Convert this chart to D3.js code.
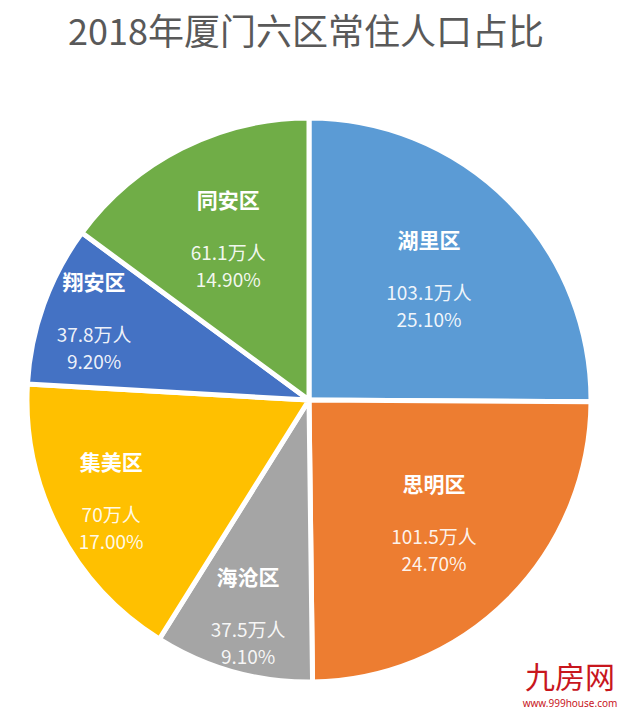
<!DOCTYPE html>
<html>
<head>
<meta charset="utf-8">
<script src="https://cdn.jsdelivr.net/npm/d3@7"></script>
<style>
  html, body { margin: 0; padding: 0; background: #ffffff; }
  svg { display: block; }
</style>
</head>
<body>
<svg id="chart" width="625" height="711"></svg>
<script>
// ---- data ----
const districts = ["湖里区", "思明区", "海沧区", "集美区", "翔安区", "同安区"];
const population = [103.1, 101.5, 37.5, 70, 37.8, 61.1];   // 万人
const shares = [25.10, 24.70, 9.10, 17.00, 9.20, 14.90];   // %
const titleText = "2018年厦门六区常住人口占比";

// ---- style / layout ----
const colors = ["#5B9BD5", "#ED7D31", "#A5A5A5", "#FFC000", "#4472C4", "#70AD47"];
const labelRadiusFactor = [0.60, 0.625, 0.80, 0.79, 0.81, 0.635];
const cx = 309, cy = 400, R = 282;

const svg = d3.select("#chart");

svg.append("text")
  .attr("x", 306).attr("y", 45)
  .attr("text-anchor", "middle")
  .attr("font-family", "'Noto Sans CJK SC', 'Noto Sans', sans-serif")
  .attr("font-size", 36)
  .attr("fill", "#595959")
  .text(titleText);

const rows = districts.map((d, i) => ({ name: d, pop: population[i], share: shares[i], i }));

const pie = d3.pie().sort(null).value(d => d.share);
const arcs = pie(rows);
const arc = d3.arc().innerRadius(0).outerRadius(R);

const g = svg.append("g").attr("transform", `translate(${cx},${cy})`);

g.selectAll("path.slice")
  .data(arcs)
  .join("path")
  .attr("class", "slice")
  .attr("d", arc)
  .attr("fill", d => colors[d.data.i])
  .attr("stroke", "#ffffff")
  .attr("stroke-width", 5)
  .attr("stroke-linejoin", "round");

const labels = g.selectAll("g.label")
  .data(arcs)
  .join("g")
  .attr("class", "label")
  .attr("transform", d => {
    const r = R * labelRadiusFactor[d.data.i];
    const a = (d.startAngle + d.endAngle) / 2;
    return `translate(${Math.sin(a) * r},${-Math.cos(a) * r})`;
  })
  .attr("font-family", "'Noto Sans CJK SC', 'Noto Sans', sans-serif")
  .attr("text-anchor", "middle");

labels.append("text")
  .attr("y", -40)
  .attr("dy", "0.35em")
  .attr("font-size", 21)
  .attr("font-weight", "bold")
  .attr("fill", "#ffffff")
  .text(d => d.data.name);

labels.append("text")
  .attr("y", 13)
  .attr("dy", "0.35em")
  .attr("font-size", 19)
  .attr("fill", "#ffffff")
  .attr("fill-opacity", 0.92)
  .text(d => `${d.data.pop}万人`);

labels.append("text")
  .attr("y", 40)
  .attr("dy", "0.35em")
  .attr("font-size", 19)
  .attr("fill", "#ffffff")
  .attr("fill-opacity", 0.92)
  .text(d => `${d.data.share.toFixed(2)}%`);

// watermark
svg.append("text")
  .attr("x", 570).attr("y", 688)
  .attr("text-anchor", "middle")
  .attr("font-family", "'Noto Sans CJK SC', sans-serif")
  .attr("font-size", 30)
  .attr("fill", "#C8161D")
  .text("九房网");
svg.append("text")
  .attr("x", 570).attr("y", 707)
  .attr("text-anchor", "middle")
  .attr("font-family", "'Noto Sans', sans-serif")
  .attr("font-size", 10)
  .attr("fill", "#C8161D")
  .text("www.999house.com");
</script>
</body>
</html>
